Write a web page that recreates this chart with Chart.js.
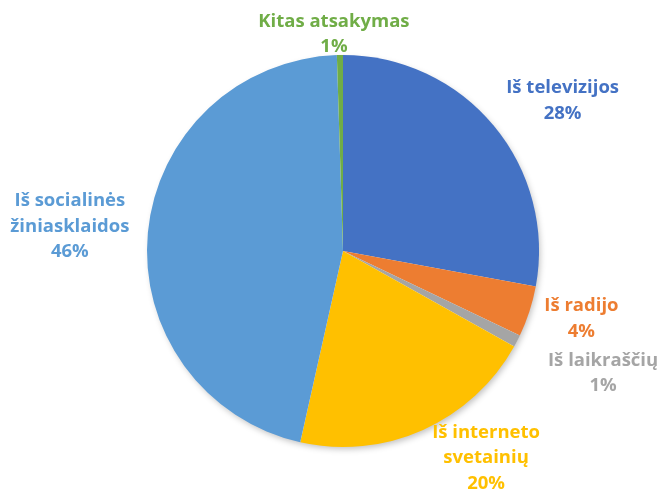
<!DOCTYPE html>
<html>
<head>
<meta charset="utf-8">
<script src="https://cdn.jsdelivr.net/npm/chart.js@4/dist/chart.umd.min.js"></script>
<style>
  html, body { margin: 0; padding: 0; background: #fff; }
  #wrap { width: 661px; height: 492px; }
</style>
</head>
<body>
<div id="wrap"><canvas id="myChart"></canvas></div>
<script>
// data
var labels = [['Iš televizijos'], ['Iš radijo'], ['Iš laikraščių'], ['Iš interneto', 'svetainių'], ['Iš socialinės', 'žiniasklaidos'], ['Kitas atsakymas']];
var values = [27.9, 4.2, 1.0, 20.4, 46.0, 0.5];
var pctText = ['28%', '4%', '1%', '20%', '46%', '1%'];
var colors = ['#4472C4', '#ED7D31', '#A5A5A5', '#FFC000', '#5B9BD5', '#70AD47'];

// label nudges from the slice edge (style only)
var labelOffset = [[69, -25], [52, 7], [86, 32], [63, 28], [-78, -6], [-6, -21]];

//shadow behind the pie
const pieShadow = {
    id: 'pieShadow',
    beforeDatasetsDraw(chart) {
        var arc = chart.getDatasetMeta(0).data[0];
        if (!arc) return;
        var ctx = chart.ctx;
        ctx.save();
        ctx.shadowColor = 'rgba(0,0,0,0.25)';
        ctx.shadowBlur = 6;
        ctx.shadowOffsetX = 2;
        ctx.shadowOffsetY = 3;
        ctx.fillStyle = '#fff';
        ctx.beginPath();
        ctx.arc(arc.x, arc.y, arc.outerRadius - 1, 0, Math.PI * 2);
        ctx.fill();
        ctx.restore();
    }
};

//outside labels
const outLabels = {
    id: 'outLabels',
    afterDatasetsDraw(chart) {
        var ctx = chart.ctx;
        var meta = chart.getDatasetMeta(0);
        ctx.save();
        ctx.font = 'bold 18.5px "Open Sans"';
        ctx.textAlign = 'center';
        ctx.textBaseline = 'middle';
        meta.data.forEach(function(arc, i) {
            var mid = (arc.startAngle + arc.endAngle) / 2;
            var ex = arc.x + Math.cos(mid) * arc.outerRadius;
            var ey = arc.y + Math.sin(mid) * arc.outerRadius;
            var lines = labels[i].concat([pctText[i]]);
            var lh = 25.5;
            var cx = ex + labelOffset[i][0];
            var cy = ey + labelOffset[i][1] - (lines.length - 1) * lh / 2;
            ctx.fillStyle = colors[i];
            lines.forEach(function(t, k) {
                ctx.fillText(t, cx, cy + k * lh);
            });
        });
        ctx.restore();
    }
};

const config = {
    type: 'pie',
    data: {
        labels: labels.map(l => l.join(' ')),
        datasets: [{
            data: values,
            backgroundColor: colors,
            borderWidth: 0
        }]
    },
    options: {
        responsive: true,
        maintainAspectRatio: false,
        animation: false,
        layout: {
            padding: { left: 147, right: 122, top: 55, bottom: 45 }
        },
        plugins: {
            legend: { display: false },
            tooltip: { enabled: false }
        }
    },
    plugins: [pieShadow, outLabels]
};

const myChart = new Chart(document.getElementById('myChart'), config);
</script>
</body>
</html>
